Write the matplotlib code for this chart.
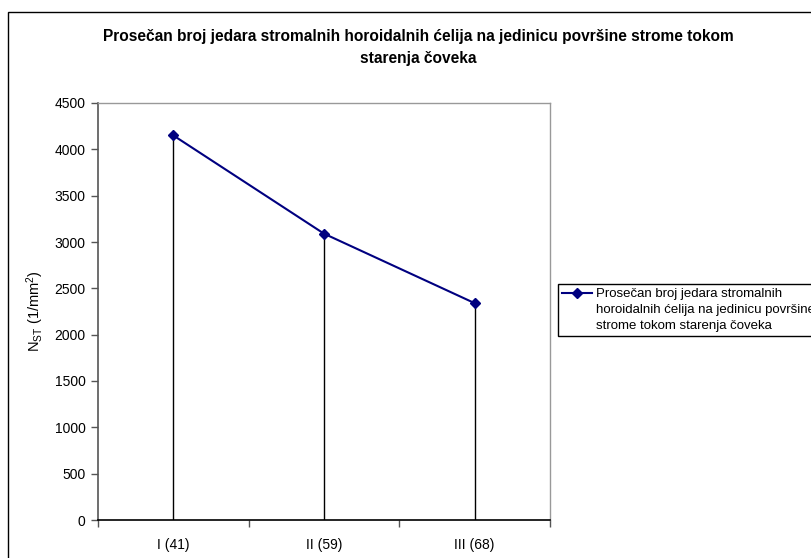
import matplotlib
matplotlib.use("Agg")
import matplotlib.pyplot as plt
from matplotlib.patches import Rectangle

# podaci
kategorije = ["I (41)", "II (59)", "III (68)"]
vrednosti = [4150, 3090, 2340]
y_ticks = [0, 500, 1000, 1500, 2000, 2500, 3000, 3500, 4000, 4500]
naslov = "Prosečan broj jedara stromalnih horoidalnih ćelija na jedinicu površine strome tokom\nstarenja čoveka"
legenda = "Prosečan broj jedara stromalnih\nhoroidalnih ćelija na jedinicu površine\nstrome tokom starenja čoveka"

plt.rcParams["font.family"] = ["Liberation Sans", "DejaVu Sans"]
plt.rcParams["mathtext.default"] = "regular"

W, H = 811, 558
fig = plt.figure(figsize=(W / 100, H / 100), dpi=100)

# okvir grafikona (odsecen desno i dole)
fig.patches.append(Rectangle((8 / W, -0.5), 2, 0.5 + 1 - 12 / H, transform=fig.transFigure,
                             fill=False, edgecolor="black", linewidth=1.0, clip_on=False))

ax = fig.add_axes([98 / W, 1 - 520 / H, 452 / W, 417 / H])
x = list(range(len(kategorije)))

# vertikalne linije do nule
ax.vlines(x, 0, vrednosti, colors="black", linewidth=1.0, zorder=2)
ax.plot(x, vrednosti, color="#000080", marker="D", markersize=5, linewidth=1.5,
        label=legenda, zorder=3)

ax.set_xlim(-0.5, len(kategorije) - 0.5)
ax.set_ylim(0, 4500)
ax.set_yticks(y_ticks)
ax.tick_params(axis="y", direction="out", length=5, width=1, labelsize=10, pad=4, color="#555555")

ax.set_xticks([i - 0.5 for i in range(len(kategorije) + 1)])
ax.set_xticklabels([])
ax.set_xticks(x, minor=True)
ax.set_xticklabels(kategorije, minor=True, fontsize=10)
ax.tick_params(axis="x", which="major", direction="out", length=5, width=1, color="#555555")
ax.tick_params(axis="x", which="minor", length=0, pad=13)

for s in ["top", "right"]:
    ax.spines[s].set_color("#999999")
    ax.spines[s].set_linewidth(1.0)
ax.spines["left"].set_color("#555555")
ax.spines["bottom"].set_color("black")
ax.spines["left"].set_linewidth(1.2)
ax.spines["bottom"].set_linewidth(1.2)

fig.text(35 / W, 1 - 311 / H, "N$_{ST}$ (1/mm$^2$)", rotation=90, ha="center", va="center", fontsize=10.5)

fig.text(418 / W, 1 - 37 / H, naslov.split("\n")[0], ha="center", va="center", fontsize=11.2, fontweight="bold")
fig.text(418 / W, 1 - 58 / H, naslov.split("\n")[1], ha="center", va="center", fontsize=11.2, fontweight="bold")

leg = fig.legend(loc="upper left", bbox_to_anchor=(558 / W, 1 - 284 / H), fontsize=9.5,
                 frameon=True, fancybox=False, edgecolor="black", framealpha=1,
                 handlelength=2.3, handletextpad=0.25, borderpad=0.3, borderaxespad=0,
                 labelspacing=0.2)
leg.get_frame().set_linewidth(1.0)
for t in leg.get_texts():
    t.set_linespacing(1.45)
# oznaka u legendi poravnata sa prvim redom teksta
for col in leg._legend_handle_box.get_children():
    for row in col.get_children():
        row.align = "top"

fig.savefig("out.png", dpi=100)
